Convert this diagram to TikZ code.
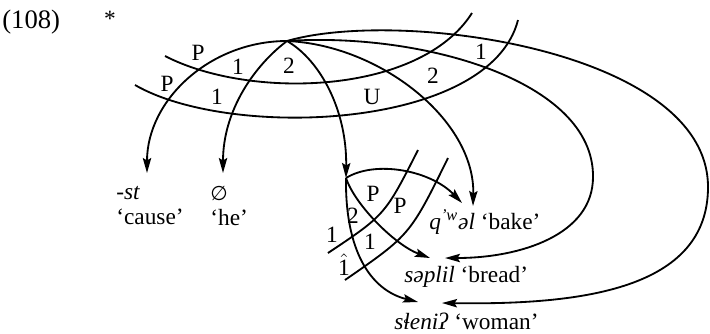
\documentclass[tikz,border=0pt]{standalone}
\usepackage{fontspec}
\setmainfont{Liberation Serif}
\newfontfamily\symfont{DejaVu Sans}
\usetikzlibrary{arrows.meta}
\begin{document}
\begin{tikzpicture}[x=0.6pt,y=-0.6pt,
  band/.style={line width=1.1pt},
  link/.style={band,-{Stealth[length=9pt,width=5pt,inset=1.5pt]}},
  lab/.style={font=\fontsize{14}{15}\selectfont,inner sep=0pt}]
\useasboundingbox (0,0) rectangle (710,333);
\node[lab,anchor=west,font=\fontsize{16}{18}\selectfont] (num) at (2,22) {(108)};
\node[lab] (star) at (110,19) {*};
\coordinate (T) at (287,41);
\coordinate (S) at (346,178);
\coordinate (c1) at (147,173);
\coordinate (c2) at (223,173);
\coordinate (k1) at (473,206);
\coordinate (k2) at (462,203);
\coordinate (r1) at (430,258);
\coordinate (r2) at (445,258);
\coordinate (w1) at (418,302);
\coordinate (w2) at (442,303);
\node[lab,anchor=west,align=left] (cause) at (116,206) {\textit{-st}\\`cause'};
\node[lab,anchor=west,align=left] (he) at (210,206) {{\symfont\fontsize{12}{15}\selectfont ∅}\\`he'};
\node[lab,anchor=west] (bake) at (429,222) {\textit{q\textsuperscript{'w}əl} `bake'};
\node[lab,anchor=west] (bread) at (404,277) {\textit{səplil} `bread'};
\node[lab,anchor=west] (woman) at (394,321) {\textit{sɬeniʔ} `woman'};
\draw[band] (165,56) .. controls (250,100) and (420,95) .. (472,13);
\draw[band] (135,85) .. controls (230,140) and (490,130) .. (518,20);
\draw[band] (328,253) .. controls (385,215) .. (418,150);
\draw[band] (345,280) .. controls (410,235) .. (448,158);
\draw[link] (T) .. controls (210,41) and (147,100) .. (c1);
\draw[link] (T) .. controls (255,65) and (223,110) .. (c2);
\draw[link] (T) .. controls (320,60) and (347,110) .. (S);
\draw[link] (T) .. controls (380,45) and (475,120) .. (k1);
\draw[link] (T) .. controls (420,32) and (594,80) .. (593,177)
  .. controls (593,235) and (520,258) .. (r2);
\draw[link] (T) .. controls (400,8) and (708,50) .. (708,187)
  .. controls (708,290) and (580,305) .. (w2);
\draw[link] (S) .. controls (375,160) and (430,170) .. (k2);
\draw[link] (S) .. controls (355,205) and (395,245) .. (r1);
\draw[link] (S) .. controls (345,250) and (370,290) .. (w1);
\node[lab] (p1) at (198,53) {P};
\node[lab] (p2) at (167,84) {P};
\node[lab] (n1) at (238,67) {1};
\node[lab] (n2) at (217,97) {1};
\node[lab] (n3) at (289,66) {2};
\node[lab] (u1) at (372,97) {U};
\node[lab] (n4) at (433,76) {2};
\node[lab] (n5) at (481,52) {1};
\node[lab] (p3) at (373,194) {P};
\node[lab] (p4) at (400,206) {P};
\node[lab] (n6) at (353,216) {2};
\node[lab] (n7) at (332,235) {1};
\node[lab] (n8) at (370,242) {1};
\node[lab] (n9) at (344,265) {$\hat{\mbox{1}}$};
\end{tikzpicture}
\end{document}
